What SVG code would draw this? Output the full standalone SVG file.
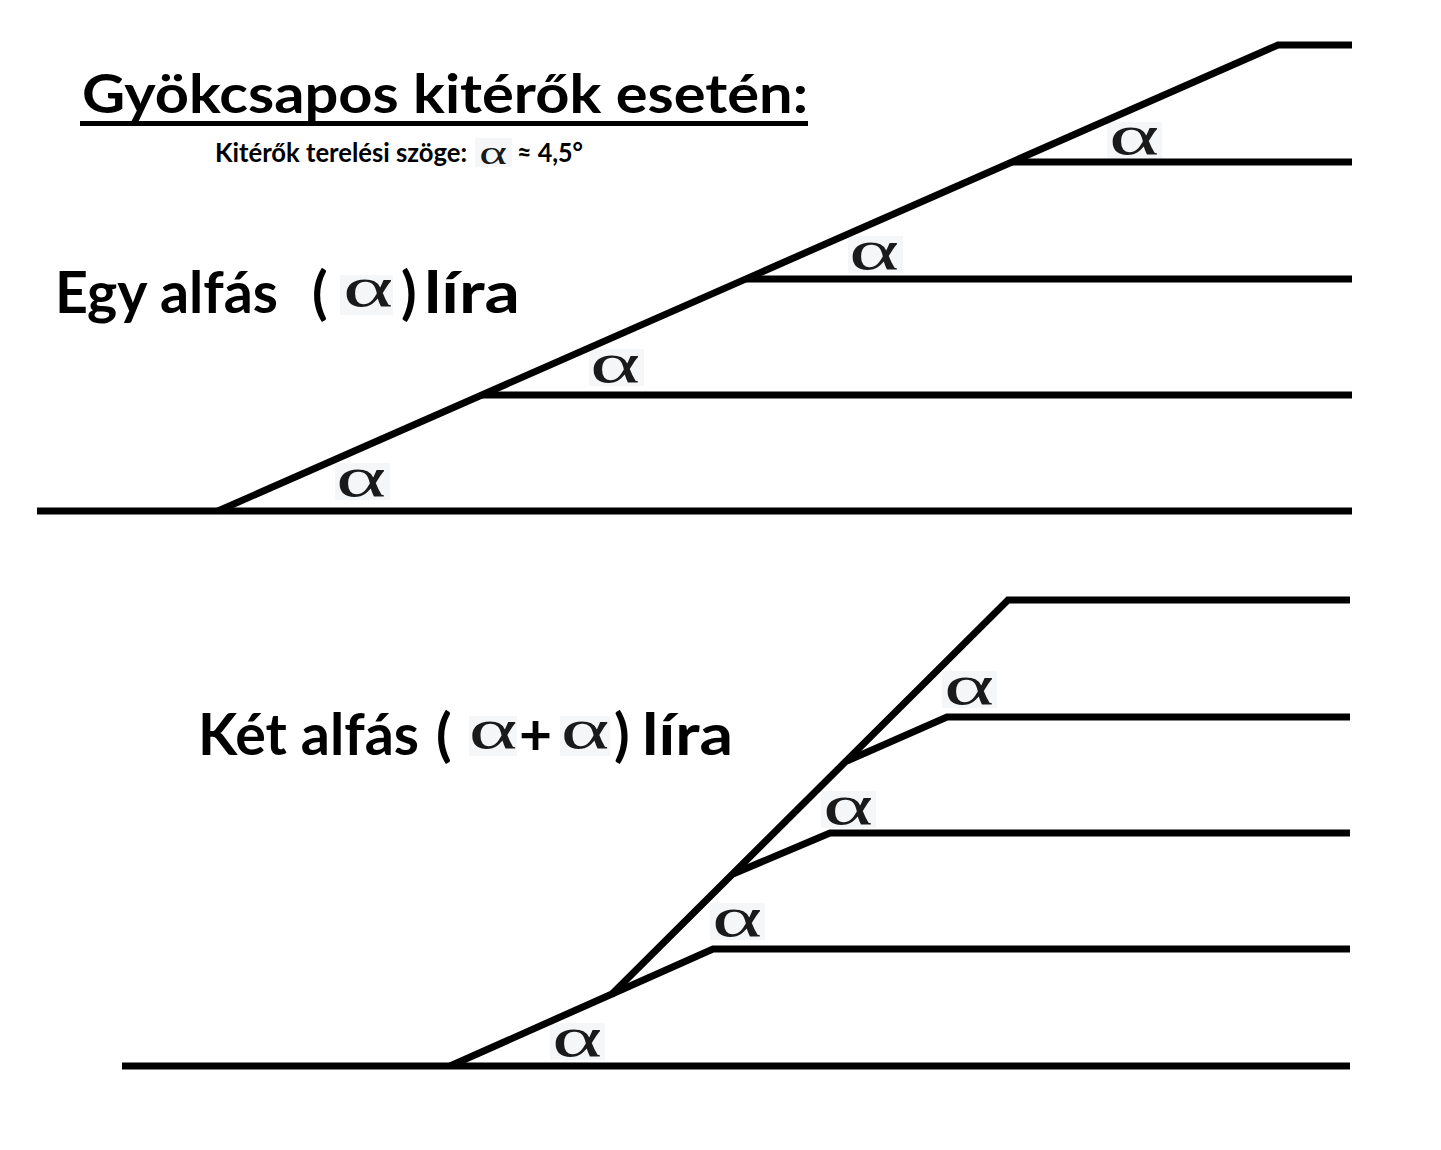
<svg xmlns="http://www.w3.org/2000/svg" width="1441" height="1150" viewBox="0 0 1441 1150">
<style>
.t{font-family:Lato,"Open Sans","Liberation Sans",sans-serif;font-weight:700;fill:#000}
.al{font-family:"Liberation Serif","DejaVu Serif",serif;fill:#1a1a1a;text-anchor:middle}
.bx{fill:#f5f6f8}
.ln{fill:none;stroke:#000;stroke-width:7;stroke-linecap:butt;stroke-linejoin:miter}
</style>
<rect width="1441" height="1150" fill="#fff"/>
<g id="title">
<text class="t" x="82" y="113" font-size="54" textLength="726" lengthAdjust="spacingAndGlyphs">Gyökcsapos kitérők esetén:</text>
<rect x="80" y="121" width="728" height="5" fill="#000"/>
</g>
<g id="subtitle">
<text class="t" x="215" y="162" font-size="26" textLength="252" lengthAdjust="spacingAndGlyphs">Kitérők terelési szöge:</text>
<rect class="bx" x="475" y="138" width="37" height="29"/>
<text class="al" transform="translate(493,164) scale(1.6,1)" font-size="33">α</text>
<text class="t" x="517" y="162" font-size="26" textLength="66" lengthAdjust="spacingAndGlyphs">≈ 4,5°</text>
</g>
<g id="label-egy">
<text class="t" x="55" y="313" font-size="57" textLength="223" lengthAdjust="spacingAndGlyphs">Egy alfás</text>
<text class="t" x="312" y="313" font-size="57">(</text>
<rect class="bx" x="340" y="275" width="53" height="40"/>
<text class="al" transform="translate(368,306) scale(1.65,1)" font-size="58">α</text>
<text class="t" x="401" y="313" font-size="57">)</text>
<text class="t" x="424" y="313" font-size="57" textLength="96" lengthAdjust="spacingAndGlyphs">líra</text>
</g>
<g id="label-ket">
<text class="t" x="198" y="755" font-size="57" textLength="221" lengthAdjust="spacingAndGlyphs">Két alfás</text>
<text class="t" x="436" y="755" font-size="57">(</text>
<rect class="bx" x="469" y="716" width="48" height="40"/>
<text class="al" transform="translate(493,748) scale(1.6,1)" font-size="58">α</text>
<text class="t" x="519" y="755" font-size="57">+</text>
<rect class="bx" x="560" y="716" width="50" height="40"/>
<text class="al" transform="translate(585,748) scale(1.6,1)" font-size="58">α</text>
<text class="t" x="614" y="755" font-size="57">)</text>
<text class="t" x="642" y="755" font-size="57" textLength="91" lengthAdjust="spacingAndGlyphs">líra</text>
</g>
<g id="alpha-labels">
<rect class="bx" x="335" y="463" width="55" height="37"/>
<text class="al" transform="translate(361,496) scale(1.65,1)" font-size="58">α</text>
<rect class="bx" x="589" y="349" width="55" height="37"/>
<text class="al" transform="translate(615,382) scale(1.65,1)" font-size="58">α</text>
<rect class="bx" x="848" y="236" width="55" height="37"/>
<text class="al" transform="translate(874,269) scale(1.65,1)" font-size="58">α</text>
<rect class="bx" x="1107" y="122" width="55" height="37"/>
<text class="al" transform="translate(1134,154) scale(1.65,1)" font-size="58">α</text>
<rect class="bx" x="550" y="1023" width="55" height="37"/>
<text class="al" transform="translate(577,1056) scale(1.65,1)" font-size="58">α</text>
<rect class="bx" x="710" y="903" width="55" height="37"/>
<text class="al" transform="translate(737,936) scale(1.65,1)" font-size="58">α</text>
<rect class="bx" x="821" y="791" width="55" height="37"/>
<text class="al" transform="translate(848,824) scale(1.65,1)" font-size="58">α</text>
<rect class="bx" x="942" y="671" width="55" height="37"/>
<text class="al" transform="translate(969,704) scale(1.65,1)" font-size="58">α</text>
</g>
<g id="connectors">
<path class="ln" d="M37 511 H1352"/>
<path class="ln" d="M218 511 L1278 45 H1352"/>
<path class="ln" d="M482 395 H1352"/>
<path class="ln" d="M746 279 H1352"/>
<path class="ln" d="M1012 162 H1352"/>
<path class="ln" d="M122 1066 H1350"/>
<path class="ln" d="M450 1066 L612 994 L1008 600 H1350"/>
<path class="ln" d="M612 994 L713 949 H1350"/>
<path class="ln" d="M733 874 L830 833 H1350"/>
<path class="ln" d="M847 761 L947 717 H1350"/>
</g>
</svg>
